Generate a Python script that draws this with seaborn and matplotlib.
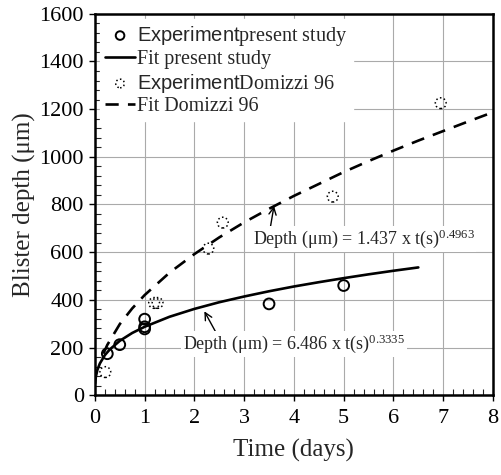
import numpy as np
import pandas as pd
import matplotlib
matplotlib.use("Agg")
import matplotlib.pyplot as plt
import seaborn as sns
from matplotlib.ticker import MultipleLocator

# ---- data ----
exp_present_t = [0.25, 0.5, 1.0, 1.0, 1.0, 3.5, 5.0]
exp_present_d = [174, 212, 319, 287, 278, 383, 460]

exp_domizzi_t = [0.21, 1.19, 1.26, 2.28, 2.57, 4.78, 6.95]
exp_domizzi_d = [97, 387, 387, 615, 724, 833, 1225]

fit_present_t = [0.005, 0.02, 0.05, 0.1, 0.2, 0.3, 0.5, 0.75, 1.0, 1.5, 2.0, 2.5,
                 3.0, 3.5, 4.0, 4.5, 5.0, 5.5, 6.0, 6.5]
fit_present_d = [49, 78, 106, 133, 168, 192, 228, 261, 287, 329, 362, 390,
                 414, 436, 456, 474, 491, 507, 522, 536]

fit_domizzi_t = [0.17, 0.25, 0.5, 0.75, 1.0, 1.5, 2.0, 2.5, 3.0, 3.5, 4.0, 4.5,
                 5.0, 5.5, 6.0, 6.5, 7.0, 7.5, 8.0]
fit_domizzi_d = [174, 211, 298, 364, 420, 514, 592, 662, 725, 782, 836, 886,
                 936, 982, 1026, 1068, 1108, 1148, 1187]

sns.set_theme(style="white")
plt.rcParams["font.family"] = ["Liberation Serif", "DejaVu Serif"]
plt.rcParams["mathtext.fontset"] = "custom"
plt.rcParams["mathtext.rm"] = "Liberation Serif"
plt.rcParams["mathtext.sf"] = "Liberation Sans"
plt.rcParams["mathtext.it"] = "Liberation Serif:italic"

fig = plt.figure(figsize=(5.02, 4.75), dpi=100)
ax = fig.add_axes([0.189, 0.168, 0.793, 0.803])

sns.lineplot(x=fit_present_t, y=fit_present_d, ax=ax, color="black", lw=1.9,
             sort=False, estimator=None, label="Fit present study", zorder=3)
sns.lineplot(x=fit_domizzi_t, y=fit_domizzi_d, ax=ax, color="black", lw=1.9,
             sort=False, estimator=None, label="Fit Domizzi 96", zorder=3)
ax.lines[1].set_dashes([5, 3.5])

sns.scatterplot(x=exp_present_t, y=exp_present_d, ax=ax, marker="o", s=60,
                facecolor="none", edgecolor="black", linewidth=1.4,
                label=r"$\mathsf{Experiment}$present study", zorder=4)
sns.scatterplot(x=exp_domizzi_t, y=exp_domizzi_d, ax=ax, marker="o", s=60,
                facecolor="none", edgecolor="black", linewidth=1.1, linestyle=":",
                label=r"$\mathsf{Experiment}$Domizzi 96", zorder=4)

ax.set_xlim(0, 8)
ax.set_ylim(0, 1600)
ax.xaxis.set_major_locator(MultipleLocator(1))
ax.xaxis.set_minor_locator(MultipleLocator(0.2))
ax.yaxis.set_major_locator(MultipleLocator(200))
ax.yaxis.set_minor_locator(MultipleLocator(40))
ax.grid(True, which="major", color="#aaaaaa", lw=0.8)
ax.set_axisbelow(True)
for sp in ax.spines.values():
    sp.set_visible(True)
    sp.set_color("black")
    sp.set_linewidth(1.8)
ax.tick_params(which="major", direction="out", length=4, width=1.0, labelsize=16,
               colors="black", left=True, bottom=True)
ax.tick_params(which="minor", direction="in", length=4, width=0.8, left=True, bottom=True)
ax.tick_params(axis="x", pad=6)
ax.tick_params(axis="y", pad=4)
ax.set_xlabel("Time (days)", fontsize=18, labelpad=8)
ax.set_ylabel("Blister depth (μm)", fontsize=18, labelpad=2)

handles, labels = ax.get_legend_handles_labels()
order = [2, 0, 3, 1]
leg = ax.legend([handles[i] for i in order], [labels[i] for i in order],
                loc="upper left", fontsize=14.5, frameon=True, fancybox=False,
                borderaxespad=0.25, handlelength=1.5, handletextpad=0.1,
                labelspacing=0.12, borderpad=0.25, markerscale=0.8)
leg.get_frame().set_edgecolor("white")
leg.get_frame().set_facecolor("white")
leg.get_frame().set_alpha(1.0)

ax.annotate("Depth (μm) = 1.437 x t(s)$^{0.4963}$", xy=(3.6, 794), xytext=(5.4, 655),
            ha="center", va="center", fontsize=13,
            bbox=dict(boxstyle="square,pad=0.1", fc="white", ec="none"),
            arrowprops=dict(arrowstyle="->", color="black", lw=1.0,
                            shrinkA=0, shrinkB=0, relpos=(0.08, 1.0)))
ax.annotate("Depth (μm) = 6.486 x t(s)$^{0.3335}$", xy=(2.2, 352), xytext=(4.0, 214),
            ha="center", va="center", fontsize=13,
            bbox=dict(boxstyle="square,pad=0.1", fc="white", ec="none"),
            arrowprops=dict(arrowstyle="->", color="black", lw=1.0,
                            shrinkA=0, shrinkB=0, relpos=(0.15, 1.0)))

fig.savefig("out.png", dpi=100)
